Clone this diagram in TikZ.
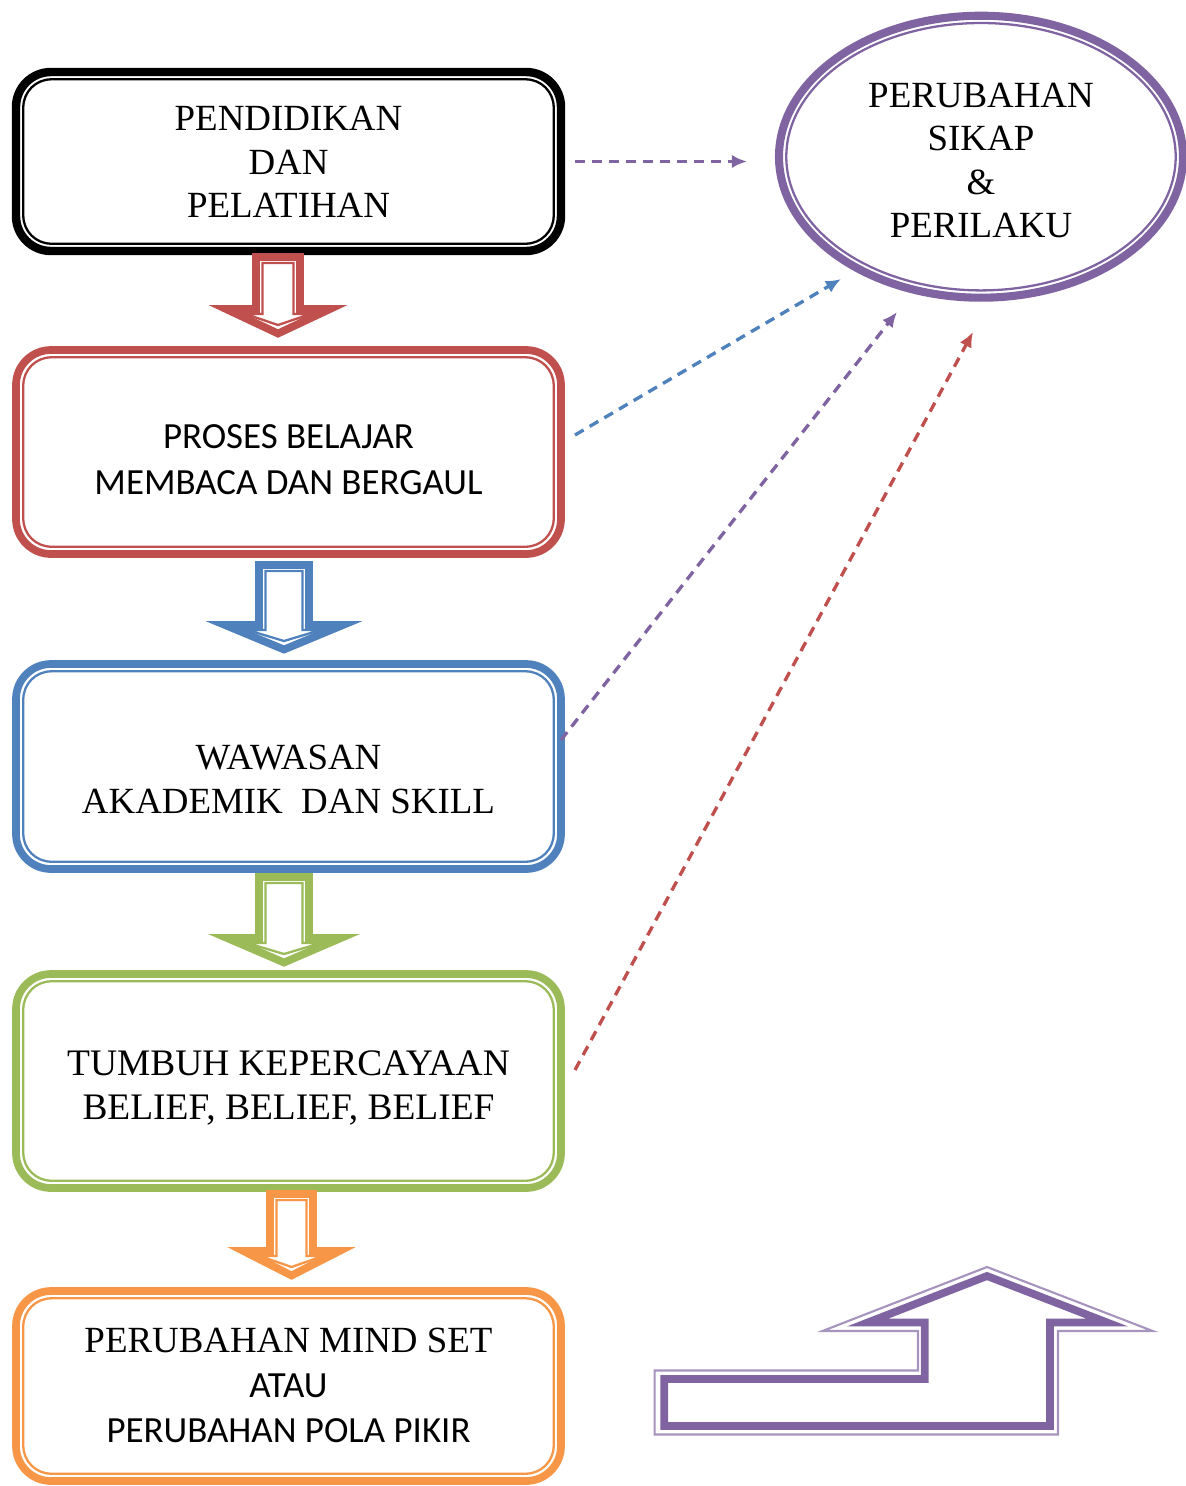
\documentclass[tikz,border=0pt]{standalone}
\usepackage{fontspec}
\setmainfont{Liberation Serif}
\setsansfont{Carlito}
\usepackage{tikz}
\usetikzlibrary{shapes.geometric,arrows.meta}

\definecolor{merah}{HTML}{C0504D}
\definecolor{biru}{HTML}{4F81BD}
\definecolor{hijau}{HTML}{9BBB59}
\definecolor{oranye}{HTML}{F79646}
\definecolor{ungu}{HTML}{8064A2}

\tikzset{
  kotak/.style={draw=#1, line width=2.2pt, rounded corners=0.35cm, minimum width=5.45cm, inner sep=0pt, outer sep=0pt},
  garis/.style={draw=#1, line width=0.65pt, rounded corners=0.28cm},
  teks/.style={font=\fontsize{10.5}{12.3}\selectfont, align=center, inner sep=0pt},
  putus/.style={#1, line width=0.95pt, dash pattern=on 0.1cm off 0.07cm, ->},
  >={Latex[length=4.3pt,width=3.8pt]}
}

\begin{document}
\begin{tikzpicture}
\useasboundingbox (0,0) rectangle (11.85,-14.86);

% kotak
\node[kotak=black, line width=2.4pt, minimum height=1.79cm] (didik) at (2.885,-1.615) {};
\node[kotak=merah, minimum height=2.04cm] (belajar) at (2.885,-4.52) {};
\node[kotak=biru, minimum height=2.05cm] (wawasan) at (2.885,-7.665) {};
\node[kotak=hijau, minimum height=2.14cm] (percaya) at (2.885,-10.81) {};
\node[kotak=oranye, minimum height=1.90cm] (pola) at (2.885,-13.86) {};

\foreach \k/\w in {didik/black,belajar/merah,wawasan/biru,percaya/hijau,pola/oranye}
  \draw[garis=\w] ([shift={(0.073,-0.073)}]\k.north west) rectangle ([shift={(-0.073,0.073)}]\k.south east);

\node[teks] (tdidik) at (2.885,-1.62) {PENDIDIKAN\\DAN\\PELATIHAN};
\node[teks, font=\sffamily\fontsize{10.5}{13.1}\selectfont] (tbelajar) at (2.885,-4.60) {PROSES BELAJAR\\MEMBACA DAN BERGAUL};
\node[teks, font=\fontsize{10.5}{12.5}\selectfont] (twawasan) at (2.885,-7.79) {WAWASAN\\AKADEMIK\ \ DAN SKILL};
\node[teks, font=\fontsize{10.65}{12.3}\selectfont] (tpercaya) at (2.885,-10.88) {TUMBUH KEPERCAYAAN\\BELIEF, BELIEF, BELIEF};
\node[teks, font=\fontsize{10.5}{12.8}\selectfont] (tpola) at (2.885,-13.85) {PERUBAHAN MIND SET\\\sffamily ATAU\\\sffamily PERUBAHAN POLA PIKIR};

% panah blok
\foreach \a/\w/\dx/\dy/\s/\h/\i/\l in {didik/merah/-0.105/-0.06/0.22/0.52/0.325/0.52,belajar/biru/-0.045/-0.11/0.25/0.59/0.365/0.60,wawasan/hijau/-0.045/-0.08/0.25/0.57/0.37/0.61,percaya/oranye/0.03/-0.06/0.215/0.48/0.315/0.57}
{
  \draw[\w, line width=2.2pt] (\a.south) ++(\dx-\s,\dy) -- ++(0,-\l) -- ++(\s-\h,0) -- ++(\h,-0.245) -- ++(\h,0.245) -- ++(\s-\h,0) -- ++(0,\l) -- cycle;
  \draw[\w, line width=0.65pt] (\a.south) ++(\dx-\s+0.065,\dy-0.06) -- ++(0,-\l+0.01) -- ++(\s-0.065-\i,0) -- ++(\i,-0.11) -- ++(\i,0.11) -- ++(\s-0.065-\i,0) -- ++(0,\l-0.01) -- cycle;
}

% elips
\node[draw=ungu, line width=2.3pt, ellipse, minimum width=4.04cm, minimum height=2.82cm, inner sep=0pt, outer sep=0pt] (sikap) at (9.81,-1.567) {};
\draw[ungu, line width=0.65pt] (sikap.center) ellipse [x radius=1.947cm, y radius=1.337cm];
\node[teks] (tsikap) at (9.81,-1.605) {PERUBAHAN\\SIKAP\\\&\\PERILAKU};

% panah putus-putus
\coordinate (u1) at (7.47,-1.615);
\coordinate (u2) at (8.41,-2.79);
\coordinate (u3) at (8.97,-3.12);
\coordinate (u4) at (9.73,-3.32);
\draw[putus=ungu] ([xshift=0.14cm]didik.east) -- (u1);
\draw[putus=biru] ([shift={(0.14,0.17)}]belajar.east) -- (u2);
\draw[putus=ungu] ([yshift=0.265cm]wawasan.east) -- (u3);
\draw[putus=merah] ([shift={(0.14,0.11)}]percaya.east) -- (u4);

% panah belok
\draw[ungu!70, line width=0.6pt] (6.546,-14.345) -- (6.546,-13.705) -- (9.18,-13.705) -- (9.18,-13.31) -- (8.225,-13.31) -- (9.87,-12.67) -- (11.527,-13.31) -- (10.58,-13.31) -- (10.58,-14.345) -- cycle;
\draw[ungu, line width=2.2pt] (6.643,-14.26) -- (6.643,-13.79) -- (9.247,-13.79) -- (9.247,-13.225) -- (8.677,-13.225) -- (9.87,-12.76) -- (11.072,-13.225) -- (10.50,-13.225) -- (10.50,-14.26) -- cycle;
\end{tikzpicture}
\end{document}
